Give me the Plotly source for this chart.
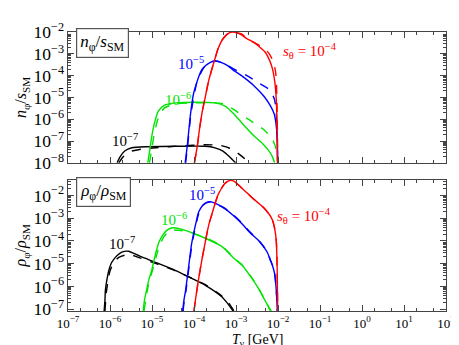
"""Densidad relativa de phi vs temperatura (n/s y rho/rho) con Plotly."""

import numpy as np
import plotly.graph_objects as go

# Valores, en log10 (T_gamma [GeV], cociente)
# --- panel superior: n_phi / s_SM ---
n_k7_logT = [-5.83, -5.76, -5.65, -5.48, -5.13, -4.43, -3.73, -3.50, -3.31, -3.15, -3.01]
n_k7_logy = [-8.0, -7.73, -7.46, -7.31, -7.26, -7.24, -7.24, -7.31, -7.46, -7.73, -8.0]
n_k7d_logT = [-5.79, -5.69, -5.53, -5.25, -4.90, -4.31, -3.73, -3.38, -3.15, -2.96, -2.79, -2.72]
n_k7d_logy = [-8.0, -7.73, -7.49, -7.37, -7.31, -7.22, -7.17, -7.20, -7.33, -7.55, -7.82, -8.0]

n_k6_logT = [-5.10, -5.06, -5.01, -4.94, -4.85, -4.71, -4.43, -3.96, -3.50, -3.26, -3.05,
             -2.86, -2.58, -2.37, -2.23, -2.14, -2.08]
n_k6_logy = [-8.0, -7.51, -6.84, -6.17, -5.63, -5.36, -5.25, -5.22, -5.25, -5.40, -5.76,
             -6.17, -6.75, -7.11, -7.42, -7.69, -8.0]
n_k6d_logT = [-5.06, -5.01, -4.94, -4.85, -4.71, -4.43, -3.96, -3.50, -3.26, -3.05, -2.70,
              -2.35, -2.16, -2.07, -2.02, -2.01]
n_k6d_logy = [-8.0, -7.42, -6.61, -5.94, -5.49, -5.29, -5.25, -5.25, -5.31, -5.56, -6.01,
              -6.46, -6.84, -7.20, -7.73, -8.0]

n_k5_logT = [-4.21, -4.16, -4.08, -4.01, -3.92, -3.82, -3.73, -3.61, -3.50, -3.36, -3.19,
             -3.05, -2.87, -2.58, -2.33, -2.17, -2.09, -2.05, -2.02, -2.01]
n_k5_logy = [-8.0, -7.21, -5.72, -4.82, -4.23, -3.75, -3.55, -3.39, -3.33, -3.39, -3.55,
             -3.77, -4.00, -4.45, -4.96, -5.42, -5.76, -6.17, -6.84, -8.0]
n_k5d_logT = [-4.20, -4.15, -4.07, -3.92, -3.73, -3.50, -3.26, -3.05, -2.74, -2.43, -2.19,
              -2.08, -2.04, -2.02, -2.01]
n_k5d_logy = [-8.0, -7.20, -5.72, -4.23, -3.55, -3.33, -3.46, -3.70, -4.00, -4.37, -4.67,
              -5.12, -5.72, -6.61, -8.0]

n_k4_logT = [-3.99, -3.92, -3.87, -3.81, -3.73, -3.65, -3.54, -3.42, -3.31, -3.19, -3.07,
             -2.87, -2.74, -2.56, -2.42, -2.30, -2.20, -2.13, -2.08, -2.04, -2.02, -2.01]
n_k4_logy = [-8.0, -7.21, -6.47, -5.72, -4.97, -4.23, -3.48, -2.73, -2.31, -2.07, -2.0,
             -2.13, -2.31, -2.49, -2.72, -2.94, -3.30, -3.70, -4.23, -5.12, -6.61, -8.0]
n_k4d_logT = [-3.99, -3.92, -3.87, -3.81, -3.73, -3.65, -3.54, -3.42, -3.31, -3.19, -3.07,
              -2.87, -2.70, -2.51, -2.35, -2.21, -2.12, -2.06, -2.04, -2.02, -2.007]
n_k4d_logy = [-8.0, -7.21, -6.47, -5.72, -4.97, -4.23, -3.48, -2.73, -2.31, -2.07, -2.0,
              -2.09, -2.36, -2.54, -2.73, -2.99, -3.33, -3.79, -4.23, -5.72, -8.0]

# --- panel inferior: rho_phi / rho_SM ---
r_k7_logT = [-6.14, -6.12, -6.11, -6.07, -6.03, -5.97, -5.91, -5.83, -5.72, -5.56, -5.29,
             -4.90, -4.51, -4.12, -3.73, -3.34, -3.22, -3.07]
r_k7_logy = [-7.08, -6.61, -6.17, -5.67, -5.31, -4.98, -4.81, -4.64, -4.49, -4.45, -4.67,
             -4.95, -5.24, -5.59, -5.95, -6.45, -6.70, -7.08]
r_k7d_logT = [-6.12, -6.09, -6.04, -6.00, -5.91, -5.79, -5.56, -5.29, -4.90, -4.51, -4.12,
              -3.73, -3.34, -3.17, -3.05]
r_k7d_logy = [-7.08, -6.31, -5.67, -5.32, -4.94, -4.72, -4.59, -4.74, -5.00, -5.26, -5.58,
              -5.92, -6.42, -6.74, -7.08]

r_k6_logT = [-5.21, -5.18, -5.13, -5.07, -5.01, -4.90, -4.83, -4.74, -4.64, -4.51, -4.31,
             -4.12, -3.73, -3.34, -3.05, -2.86, -2.68, -2.49, -2.35, -2.26, -2.18]
r_k6_logy = [-7.08, -6.61, -6.17, -5.67, -5.31, -4.45, -4.03, -3.73, -3.52, -3.42, -3.48,
             -3.59, -3.88, -4.24, -4.76, -5.06, -5.49, -6.01, -6.48, -6.78, -7.08]
r_k6d_logT = [-5.19, -5.15, -5.11, -5.05, -4.99, -4.87, -4.80, -4.72, -4.62, -4.51, -4.31,
              -4.12, -3.73, -3.34, -3.05, -2.86, -2.68, -2.49, -2.35, -2.26, -2.16]
r_k6d_logy = [-7.08, -6.61, -6.17, -5.67, -5.31, -4.49, -4.12, -3.82, -3.61, -3.52, -3.54,
              -3.61, -3.86, -4.22, -4.74, -5.04, -5.47, -5.99, -6.46, -6.78, -7.08]

r_k5_logT = [-4.27, -4.24, -4.20, -4.12, -4.06, -4.00, -3.94, -3.89, -3.80, -3.73, -3.61,
             -3.50, -3.26, -3.05, -2.87, -2.66, -2.48, -2.35, -2.25, -2.19, -2.13, -2.08,
             -2.05, -2.03, -2.016]
r_k5_logy = [-7.08, -6.61, -6.17, -5.02, -4.16, -3.59, -3.09, -2.73, -2.45, -2.33, -2.27,
             -2.34, -2.59, -2.90, -3.22, -3.65, -3.95, -4.24, -4.52, -4.81, -5.09, -5.45,
             -5.95, -6.52, -7.08]
r_k5d_logT = [-4.26, -4.23, -4.19, -4.11, -4.05, -3.99, -3.93, -3.88, -3.80, -3.73, -3.61,
              -3.50, -3.26, -3.05, -2.87, -2.66, -2.48, -2.35, -2.25, -2.19, -2.13, -2.08,
              -2.05, -2.03, -2.016]
r_k5d_logy = [-7.08, -6.61, -6.17, -5.02, -4.16, -3.59, -3.09, -2.75, -2.46, -2.35, -2.29,
              -2.36, -2.56, -2.88, -3.19, -3.62, -3.93, -4.22, -4.50, -4.79, -5.08, -5.44,
              -5.95, -6.52, -7.08]

r_k4_logT = [-4.00, -3.96, -3.89, -3.81, -3.73, -3.65, -3.57, -3.50, -3.42, -3.34, -3.26,
             -3.15, -3.05, -2.87, -2.66, -2.56, -2.35, -2.19, -2.13, -2.08, -2.04, -2.02,
             -2.007]
r_k4_logy = [-7.08, -6.52, -5.67, -4.81, -4.03, -3.30, -2.80, -2.36, -1.94, -1.67, -1.46,
             -1.34, -1.37, -1.66, -2.02, -2.19, -2.52, -2.88, -3.09, -3.45, -4.02, -5.24,
             -7.08]

# Etiquetas de curvas (posición en log10)
s_theta_labels = ["10<sup>−7</sup>", "10<sup>−6</sup>", "10<sup>−5</sup>",
                  "<i>s</i><sub>θ</sub> = 10<sup>−4</sup>"]
top_label_logT = [-5.64, -4.39, -4.08, -1.23]
top_label_logy = [-6.96, -5.09, -3.43, -2.88]
bot_label_logT = [-5.72, -4.47, -3.81, -1.38]
bot_label_logy = [-4.09, -3.02, -1.94, -2.88]

# Ticks del eje T
x_tick_exp = [-7, -6, -5, -4, -3, -2, -1, 0, 1, 2]
x_tick_text = ["10<sup>−7</sup>", "10<sup>−6</sup>", "10<sup>−5</sup>", "10<sup>−4</sup>",
               "10<sup>−3</sup>", "10<sup>−2</sup>", "10<sup>−1</sup>", "10<sup>0</sup>",
               "10<sup>1</sup>", "10<sup>2</sup>"]

COLORS = ["#000000", "#00e400", "#0000ff", "#ff0000"]
FONT = "Liberation Serif"


def add_curve(fig, logT, logy, color, row, dash="solid"):
    fig.add_trace(
        go.Scatter(
            x=np.power(10.0, logT),
            y=np.power(10.0, logy),
            mode="lines",
            line=dict(color=color, width=1.4, dash=dash, shape="spline", smoothing=0.6),
            showlegend=False,
            hoverinfo="skip",
            xaxis="x" if row == 1 else "x2",
            yaxis="y" if row == 1 else "y2",
        )
    )


fig = go.Figure()

top_solid = [(n_k7_logT, n_k7_logy), (n_k6_logT, n_k6_logy), (n_k5_logT, n_k5_logy), (n_k4_logT, n_k4_logy)]
top_dash = [(n_k7d_logT, n_k7d_logy), (n_k6d_logT, n_k6d_logy), (n_k5d_logT, n_k5d_logy), (n_k4d_logT, n_k4d_logy)]
bot_solid = [(r_k7_logT, r_k7_logy), (r_k6_logT, r_k6_logy), (r_k5_logT, r_k5_logy), (r_k4_logT, r_k4_logy)]
bot_dash = [(r_k7d_logT, r_k7d_logy), (r_k6d_logT, r_k6d_logy), (r_k5d_logT, r_k5d_logy), (r_k4_logT, r_k4_logy)]

for color, (xs, ys), (xd, yd) in zip(COLORS, top_solid, top_dash):
    add_curve(fig, xs, ys, color, 1)
    add_curve(fig, xd, yd, color, 1, dash="dash")
for color, (xs, ys), (xd, yd) in zip(COLORS, bot_solid, bot_dash):
    add_curve(fig, xs, ys, color, 2)
    add_curve(fig, xd, yd, color, 2, dash="dash")

# Etiquetas s_theta junto a cada curva
for i, color in enumerate(COLORS):
    for lt, ly, xr, yr in [(top_label_logT, top_label_logy, "x", "y"), (bot_label_logT, bot_label_logy, "x2", "y2")]:
        fig.add_annotation(
            x=lt[i], y=ly[i], xref=xr, yref=yr, text=s_theta_labels[i],
            showarrow=False, font=dict(family=FONT, size=15, color=color),
        )

# Cajas con el nombre de cada panel
for text, yr, ypos in [("<i>n</i><sub>φ</sub>/<i>s</i><sub>SM</sub>", "y domain", 1.03),
                       ("<i>ρ</i><sub>φ</sub>/<i>ρ</i><sub>SM</sub>", "y2 domain", 1.02)]:
    fig.add_annotation(
        x=0.022, y=ypos, xref="x domain", yref=yr, xanchor="left", yanchor="top",
        text=text, showarrow=False, font=dict(family=FONT, size=17, color="black"),
        bordercolor="#555", borderwidth=1.2, borderpad=3, bgcolor="white",
    )

# Título del eje T como anotación (para que no se corte abajo)
fig.add_annotation(
    x=0.5, y=-0.107, xref="x2 domain", yref="paper", yanchor="middle",
    text="<i>T</i><sub>γ</sub> [GeV]", showarrow=False,
    font=dict(family=FONT, size=14, color="black"),
)

axis_common = dict(
    type="log", showgrid=False, zeroline=False, showline=True, linecolor="#444",
    linewidth=1.3, mirror="allticks", ticks="inside", ticklen=6, tickcolor="#444",
    exponentformat="power", ticklabeloverflow="allow",
    tickfont=dict(family=FONT, size=14, color="black"),
    minor=dict(ticks="inside", ticklen=3, tickcolor="#444", showgrid=False),
)
x_ticks = dict(tickmode="array", tickvals=np.power(10.0, x_tick_exp), ticktext=x_tick_text,
               tickfont=dict(family=FONT, size=13, color="black"), ticklabelstandoff=0)

fig.update_layout(
    width=459, height=345,
    margin=dict(l=60, r=14, t=17, b=42),
    paper_bgcolor="white", plot_bgcolor="white",
    font=dict(family=FONT, color="black"),
    xaxis=dict(axis_common, **x_ticks, range=[-7, 2], domain=[0, 1], anchor="y",
               showticklabels=False),
    yaxis=dict(axis_common, dtick=1, range=[-8, -2], domain=[0.531, 1], anchor="x",
               title=dict(text="<i>n</i><sub>φ</sub>/<i>s</i><sub>SM</sub>", standoff=2,
                          font=dict(family=FONT, size=16))),
    xaxis2=dict(axis_common, **x_ticks, range=[-7, 2], domain=[0, 1], anchor="y2"),
    yaxis2=dict(axis_common, dtick=1, range=[-7.08, -1.3], domain=[0, 0.471], anchor="x2",
                title=dict(text="<i>ρ</i><sub>φ</sub>/<i>ρ</i><sub>SM</sub>", standoff=2,
                           font=dict(family=FONT, size=16))),
)

fig.write_html("out.html")
